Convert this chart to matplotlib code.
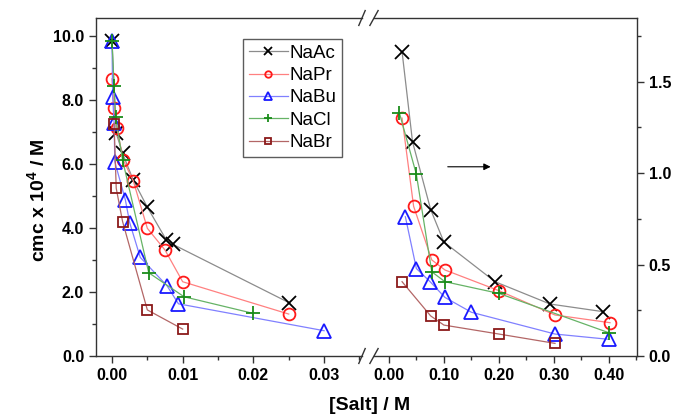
import matplotlib
matplotlib.use("Agg")
import matplotlib.pyplot as plt
from matplotlib.ticker import MultipleLocator, FormatStrFormatter

plt.rcParams["font.family"] = ["Liberation Sans", "DejaVu Sans"]
plt.rcParams["mathtext.fontset"] = "custom"
plt.rcParams["mathtext.rm"] = "Liberation Sans:bold"
plt.rcParams["mathtext.bf"] = "Liberation Sans:bold"

# ---- data: low-salt range (left axis, cmc x 10^4 / M) ----
names = ["NaAc", "NaPr", "NaBu", "NaCl", "NaBr"]

ac_x_lo = [0.0, 0.0006, 0.0015, 0.003, 0.005, 0.0077, 0.0086, 0.025]
ac_y_lo = [9.85, 6.96, 6.33, 5.50, 4.65, 3.62, 3.49, 1.67]
pr_x_lo = [0.0, 0.0003, 0.0007, 0.0016, 0.003, 0.005, 0.0075, 0.010, 0.025]
pr_y_lo = [8.66, 7.74, 7.11, 6.12, 5.48, 3.99, 3.31, 2.32, 1.31]
bu_x_lo = [0.0, 0.0001, 0.0003, 0.0004, 0.0019, 0.0025, 0.004, 0.0078, 0.0094, 0.030]
bu_y_lo = [9.85, 8.08, 7.27, 6.07, 4.87, 4.17, 3.08, 2.19, 1.63, 0.79]
cl_x_lo = [0.0, 0.0003, 0.0005, 0.0015, 0.0052, 0.0102, 0.020]
cl_y_lo = [9.85, 8.42, 7.48, 6.12, 2.60, 1.85, 1.33]
br_x_lo = [0.0003, 0.0006, 0.0015, 0.005, 0.010]
br_y_lo = [7.24, 5.24, 4.20, 1.44, 0.84]

# ---- data: high-salt range (right axis) ----
ac_x_hi = [0.024, 0.043, 0.076, 0.100, 0.193, 0.293, 0.390]
ac_y_hi = [1.663, 1.171, 0.800, 0.623, 0.406, 0.284, 0.242]
pr_x_hi = [0.024, 0.045, 0.078, 0.102, 0.200, 0.302, 0.402]
pr_y_hi = [1.300, 0.818, 0.525, 0.470, 0.357, 0.224, 0.182]
bu_x_hi = [0.030, 0.050, 0.075, 0.102, 0.150, 0.302, 0.400]
bu_y_hi = [0.761, 0.478, 0.406, 0.320, 0.239, 0.120, 0.091]
cl_x_hi = [0.019, 0.050, 0.078, 0.102, 0.200, 0.400]
cl_y_hi = [1.330, 0.993, 0.460, 0.406, 0.342, 0.127]
br_x_hi = [0.024, 0.076, 0.100, 0.200, 0.302]
br_y_hi = [0.406, 0.219, 0.169, 0.120, 0.069]

lo_data = [(ac_x_lo, ac_y_lo), (pr_x_lo, pr_y_lo), (bu_x_lo, bu_y_lo),
           (cl_x_lo, cl_y_lo), (br_x_lo, br_y_lo)]
hi_data = [(ac_x_hi, ac_y_hi), (pr_x_hi, pr_y_hi), (bu_x_hi, bu_y_hi),
           (cl_x_hi, cl_y_hi), (br_x_hi, br_y_hi)]

# style per series: marker, marker colour, line colour, marker size
styles = [
    ("x", "black", "#8c8c8c", 10),
    ("o", "#ff1a1a", "#ff8080", 8.5),
    ("^", "#1a1aff", "#8080ff", 9.5),
    ("+", "#1a8c1a", "#66b366", 10),
    ("s", "#8b1a1a", "#b36666", 7.5),
]


def draw(ax, data):
    lines = []
    for (xs, ys), name, (mk, mc, lc, ms) in zip(data, names, styles):
        (ln,) = ax.plot(xs, ys, color=lc, lw=0.9, marker=mk, ms=ms,
                        mfc="none", mec=mc, mew=1.3, label=name)
        lines.append(ln)
    return lines


W, H = 674, 418
fig = plt.figure(figsize=(W / 100, H / 100), dpi=100)
ax1 = fig.add_axes([96 / W, 62 / H, (362 - 96) / W, 338 / H])
ax2 = fig.add_axes([374 / W, 62 / H, (637 - 374) / W, 338 / H])

lines = draw(ax1, lo_data)
draw(ax2, hi_data)

ax1.set_xlim(-0.00226, 0.03536)
ax1.set_ylim(0, 10.56)
ax2.set_xlim(-0.027, 0.451)
ax2.set_ylim(0, 1.847)

ax1.xaxis.set_major_locator(MultipleLocator(0.01))
ax1.xaxis.set_minor_locator(MultipleLocator(0.005))
ax1.xaxis.set_major_formatter(FormatStrFormatter("%.2f"))
ax1.yaxis.set_major_locator(MultipleLocator(2.0))
ax1.yaxis.set_minor_locator(MultipleLocator(1.0))
ax1.yaxis.set_major_formatter(FormatStrFormatter("%.1f"))

ax2.xaxis.set_major_locator(MultipleLocator(0.1))
ax2.xaxis.set_minor_locator(MultipleLocator(0.05))
ax2.xaxis.set_major_formatter(FormatStrFormatter("%.2f"))
ax2.yaxis.set_major_locator(MultipleLocator(0.5))
ax2.yaxis.set_minor_locator(MultipleLocator(0.25))
ax2.yaxis.set_major_formatter(FormatStrFormatter("%.1f"))
ax2.yaxis.tick_right()

for ax in (ax1, ax2):
    for sp in ax.spines.values():
        sp.set_color("#333333")
        sp.set_linewidth(1.0)
    ax.tick_params(which="both", direction="out", width=1.0, color="#333333")
    ax.tick_params(which="major", length=5, labelsize=11.5)
    ax.tick_params(which="minor", length=3)
    for lab in ax.get_xticklabels() + ax.get_yticklabels():
        lab.set_fontweight("bold")

ax1.spines["right"].set_visible(False)
ax2.spines["left"].set_visible(False)

# break marks
d = 0.012
kw = dict(color="#333333", lw=1.0, clip_on=False)
for y in (0, 1):
    ax1.plot([1 - d, 1 + d], [y - 0.022, y + 0.022], transform=ax1.transAxes, **kw)
    ax2.plot([-d * 1.3, d * 1.3], [y - 0.022, y + 0.022], transform=ax2.transAxes, **kw)

ax2.annotate("", xy=(0.19, 1.034), xytext=(0.102, 1.034),
             arrowprops=dict(arrowstyle="-|>", color="black", lw=0.8,
                             mutation_scale=10))

leg = ax1.legend(handles=lines, loc="upper left", bbox_to_anchor=(0.553, 0.938),
                 borderaxespad=0, fontsize=13.5, markerscale=0.55, frameon=True,
                 fancybox=False, edgecolor="#333333", handlelength=2.1,
                 handletextpad=0.1, labelspacing=0.28, borderpad=0.3)
leg.get_frame().set_linewidth(1.0)

fig.text(370 / W, 1 - 405 / H, "[Salt] / M", ha="center", va="center",
         fontsize=14, fontweight="bold")
fig.text(38 / W, 1 - 200 / H, r"cmc x 10$^{4}$ / M", ha="center", va="center",
         rotation=90, fontsize=14, fontweight="bold")

fig.savefig("out.png", dpi=100)
